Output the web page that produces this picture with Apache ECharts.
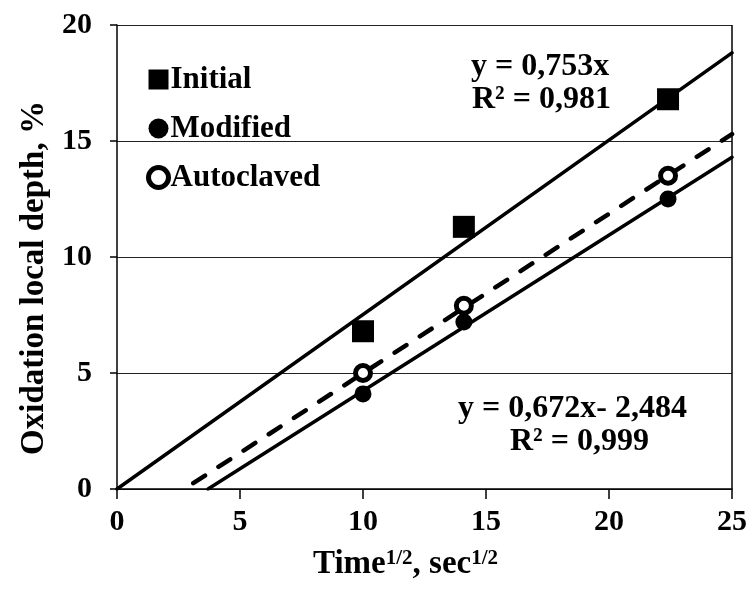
<!DOCTYPE html>
<html>
<head>
<meta charset="utf-8">
<script src="https://cdn.jsdelivr.net/npm/echarts@6/dist/echarts.min.js"></script>
<style>
  html, body { margin: 0; padding: 0; background: #fff; }
  #chart { width: 753px; height: 592px; }
</style>
</head>
<body>
<div id="chart"></div>
<script>
// measured points, x = sqrt(time)
const timeRoot = [10, 14.1, 22.4];
const initial = [6.8, 11.3, 16.8];
const modified = [4.1, 7.2, 12.5];
const autoclaved = [5.0, 7.9, 13.5];

// trend line end points
const initialFit = [[0, 0], [25, 18.8]];
const modifiedFit = [[3.7, 0], [25, 14.3]];
const autoclavedFit = [[3.1, 0.25], [25, 15.3]];

const xTicks = [0, 5, 10, 15, 20, 25];
const yTicks = [0, 5, 10, 15, 20];

const font = '"Liberation Serif", "Times New Roman", serif';
const big = { fontFamily: font, fontWeight: 'bold', fontSize: 31, color: '#000' };

const pairs = ys => timeRoot.map((x, i) => [x, ys[i]]);

const chart = echarts.init(document.getElementById('chart'));

const fitLine = (data, type, width) => ({
  type: 'line',
  data: data,
  symbol: 'none',
  silent: true,
  z: 1,
  lineStyle: { color: '#000', width: width, type: type, cap: 'round' },
});

const note = (text, left, top) => ({
  type: 'text', left: left, top: top, z: 50,
  style: { text: text, font: 'bold 32px ' + font, fill: '#000' },
});

chart.setOption({
  backgroundColor: '#fff',
  animation: false,
  grid: { left: 117, right: 21, top: 25, bottom: 103 },
  legend: {
    orient: 'vertical',
    left: 146,
    top: 64,
    padding: 0,
    itemGap: 18,
    itemWidth: 20,
    itemHeight: 20,
    textStyle: Object.assign({ padding: [3, 0, 0, -3] }, big),
    data: [
      { name: 'Initial' },
      { name: 'Modified' },
      { name: 'Autoclaved', itemStyle: { color: '#fff', borderColor: '#000', borderWidth: 5 } },
    ],
  },
  xAxis: {
    type: 'value',
    min: 0,
    max: 25,
    interval: 5,
    name: '{b|Time}{s|1/2}{b|, sec}{s|1/2}',
    nameLocation: 'middle',
    nameGap: 59,
    nameTextStyle: {
      padding: [0, 38, 0, 0],
      rich: {
        b: { fontFamily: font, fontWeight: 'bold', fontSize: 33, color: '#000' },
        s: { fontFamily: font, fontWeight: 'bold', fontSize: 21, color: '#000', verticalAlign: 'top', padding: [0, 0, 12, 0] },
      },
    },
    axisLine: { lineStyle: { color: '#000', width: 1.5 } },
    axisTick: { show: true, length: 10, lineStyle: { color: '#000', width: 1.5 } },
    axisLabel: {
      margin: 18,
      fontFamily: font, fontWeight: 'bold', fontSize: 30, color: '#000',
      formatter: v => xTicks.includes(v) ? String(v) : '',
    },
    splitLine: { show: false },
  },
  yAxis: {
    type: 'value',
    min: 0,
    max: 20,
    interval: 5,
    name: 'Oxidation local depth, %',
    nameLocation: 'middle',
    nameGap: 66,
    nameTextStyle: Object.assign({}, big, { fontSize: 33, padding: [0, 42, 0, 0] }),
    axisLine: { show: true, lineStyle: { color: '#000', width: 1.5 } },
    axisTick: { show: true, length: 7, lineStyle: { color: '#000', width: 1.5 } },
    axisLabel: {
      margin: 25,
      fontFamily: font, fontWeight: 'bold', fontSize: 30, color: '#000',
      formatter: v => yTicks.includes(v) ? String(v) : '',
    },
    splitLine: { show: true, lineStyle: { color: '#222', width: 1.2 } },
  },
  graphic: [
    {
      type: 'line',
      shape: { x1: 732, y1: 25, x2: 732, y2: 489 },
      style: { stroke: '#000', lineWidth: 1.5 },
      z: 100,
    },
    note('y = 0,753x', 471, 51),
    note('R² = 0,981', 472, 84),
    note('y = 0,672x- 2,484', 458, 393),
    note('R² = 0,999', 510, 426),
  ],
  series: [
    fitLine(initialFit, 'solid', 3.5),
    fitLine(modifiedFit, 'solid', 3.5),
    fitLine(autoclavedFit, [14, 16], 4.5),
    {
      name: 'Initial',
      type: 'scatter',
      data: pairs(initial),
      symbol: 'rect',
      symbolSize: 22,
      itemStyle: { color: '#000', opacity: 1 },
      z: 3,
    },
    {
      name: 'Modified',
      type: 'scatter',
      data: pairs(modified),
      symbol: 'circle',
      symbolSize: 17,
      itemStyle: { color: '#000', opacity: 1 },
      z: 3,
    },
    {
      name: 'Autoclaved',
      type: 'scatter',
      data: pairs(autoclaved),
      symbol: 'circle',
      symbolSize: 15,
      itemStyle: { color: '#fff', borderColor: '#000', borderWidth: 5, opacity: 1 },
      z: 4,
    },
  ],
});
</script>
</body>
</html>
